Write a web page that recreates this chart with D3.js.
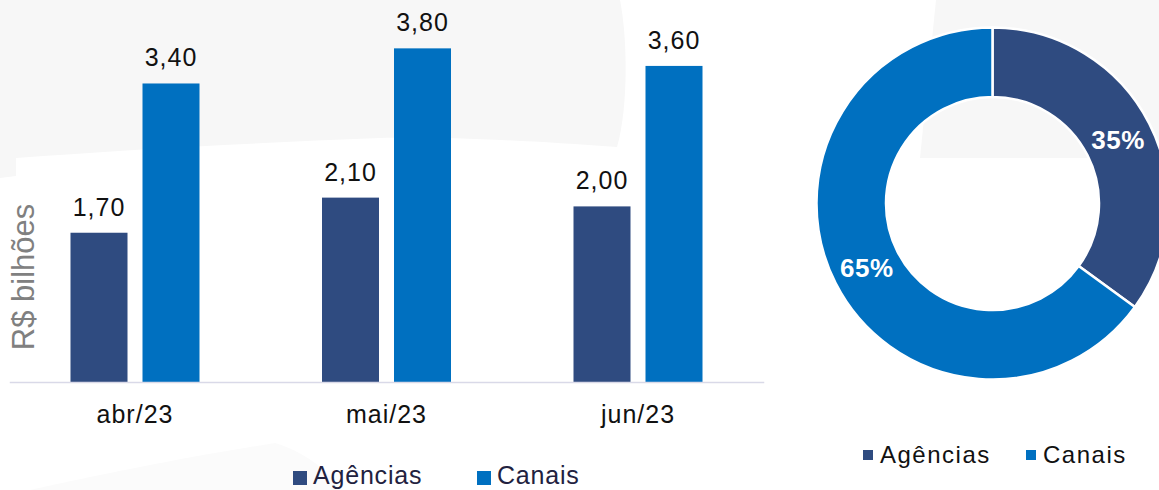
<!DOCTYPE html>
<html>
<head>
<meta charset="utf-8">
<script src="https://cdn.jsdelivr.net/npm/d3@7"></script>
<style>
  body { margin: 0; background: #fff; }
  svg { display: block; font-family: "Liberation Sans", Arial, sans-serif; }
</style>
</head>
<body>
<div id="chart"></div>
<script>
const categories = ['abr/23', 'mai/23', 'jun/23'];
const seriesNames = ['Agências', 'Canais'];
const agencias = [1.70, 2.10, 2.00];
const canais = [3.40, 3.80, 3.60];
const shareValues = [35, 65];
const shareLabels = ['35%', '65%'];
const colors = ['#2F4B80', '#0070C0'];

const W = 1159, H = 490;
const svg = d3.select('#chart').append('svg')
    .attr('width', W)
    .attr('height', H);

// faint background shapes
const bg = svg.append('g');
bg.append('path')
    .attr('d', 'M0,0 L620,0 C628,40 628,110 617,147 C520,140 430,136 380,138 C250,143 120,150 16,158 L16,176 L0,178 Z')
    .attr('fill', '#f7f7f7');
bg.append('path')
    .attr('d', 'M936,0 L1159,0 L1159,158 L920,158 Z')
    .attr('fill', '#f7f7f7');
bg.append('path')
    .attr('d', 'M30,490 C120,470 200,455 275,443 C300,450 330,470 340,490 Z')
    .attr('fill', '#fbfbfb');

// ---- bar chart ----
const rows = categories.map((c, i) => ({ cat: c, values: [agencias[i], canais[i]] }));

const x0 = d3.scaleBand().domain(categories).range([9.25, 763.75]);
const x1 = d3.scaleBand().domain(seriesNames)
    .range([x0.bandwidth() / 2 - 64.5, x0.bandwidth() / 2 + 64.5])
    .paddingInner(0.2083);
const y = d3.scaleLinear().domain([0, 4]).range([382, 30.8]);

const bars = svg.append('g');
const groups = bars.selectAll('g')
    .data(rows)
    .enter().append('g')
    .attr('transform', d => `translate(${x0(d.cat)},0)`);

groups.selectAll('rect')
    .data(d => d.values.map((v, i) => ({ name: seriesNames[i], value: v, i })))
    .enter().append('rect')
    .attr('x', d => x1(d.name))
    .attr('width', x1.bandwidth())
    .attr('y', d => y(d.value))
    .attr('height', d => y(0) - y(d.value))
    .attr('fill', d => colors[d.i]);

groups.selectAll('text')
    .data(d => d.values.map((v, i) => ({ name: seriesNames[i], value: v })))
    .enter().append('text')
    .attr('x', d => x1(d.name) + x1.bandwidth() / 2)
    .attr('y', d => y(d.value) - 17)
    .attr('text-anchor', 'middle')
    .attr('font-size', 25)
    .attr('letter-spacing', 1)
    .attr('fill', '#111')
    .text(d => d.value.toFixed(2).replace('.', ','));

// X axis
const xAxis = svg.append('g')
    .attr('transform', `translate(0,${y(0)})`)
    .call(d3.axisBottom(x0).tickSize(0).tickPadding(23));
xAxis.select('.domain').attr('stroke', '#d9d9e8').attr('stroke-width', 1.5);
xAxis.selectAll('text')
    .attr('font-size', 25)
    .attr('letter-spacing', 1)
    .attr('font-family', '"Liberation Sans", Arial, sans-serif')
    .attr('fill', '#111');

// Y title
svg.append('text')
    .attr('transform', 'translate(34,277) rotate(-90)')
    .attr('text-anchor', 'middle')
    .attr('font-size', 31)
    .attr('fill', '#808080')
    .text('R$ bilhões');

// bar legend
const barLegend = svg.append('g');
const barLegendX = [293, 477];
seriesNames.forEach((name, i) => {
  barLegend.append('rect')
      .attr('x', barLegendX[i]).attr('y', 471)
      .attr('width', 14).attr('height', 14)
      .attr('fill', colors[i]);
  barLegend.append('text')
      .attr('x', barLegendX[i] + 20).attr('y', 484)
      .attr('font-size', 25)
      .attr('letter-spacing', 0.8)
      .attr('fill', '#22223f')
      .text(name);
});

// ---- donut ----
const cx = 992.5, cy = 203.5;
const pie = d3.pie().sort(null).value(d => d);
const arc = d3.arc().innerRadius(106.5).outerRadius(176);
const labelArc = d3.arc().innerRadius(141).outerRadius(141);

const donut = svg.append('g').attr('transform', `translate(${cx},${cy})`);
const slices = pie(shareValues);
donut.selectAll('path')
    .data(slices)
    .enter().append('path')
    .attr('d', arc)
    .attr('fill', (d, i) => colors[i])
    .attr('stroke', '#fff')
    .attr('stroke-width', 2.5);

donut.selectAll('text')
    .data(slices)
    .enter().append('text')
    .attr('transform', d => `translate(${labelArc.centroid(d)})`)
    .attr('text-anchor', 'middle')
    .attr('dy', '0.36em')
    .attr('font-size', 26)
    .attr('letter-spacing', 0.5)
    .attr('font-weight', 'bold')
    .attr('fill', '#fff')
    .text((d, i) => shareLabels[i]);

// donut legend
const pieLegend = svg.append('g');
const pieLegendX = [863, 1026];
seriesNames.forEach((name, i) => {
  pieLegend.append('rect')
      .attr('x', pieLegendX[i]).attr('y', 450)
      .attr('width', 10).attr('height', 10)
      .attr('fill', colors[i]);
  pieLegend.append('text')
      .attr('x', pieLegendX[i] + 17).attr('y', 463)
      .attr('font-size', 24)
      .attr('letter-spacing', 1.5)
      .attr('fill', '#111')
      .text(name);
});
</script>
</body>
</html>
